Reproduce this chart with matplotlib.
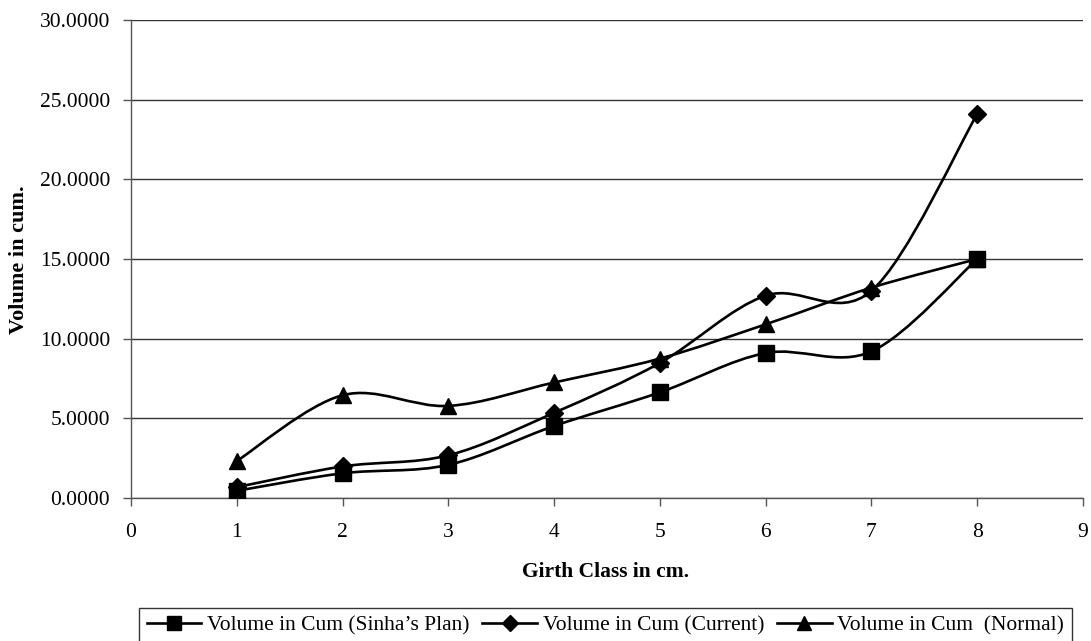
import matplotlib
matplotlib.use("Agg")
import matplotlib.pyplot as plt
import numpy as np
from matplotlib.path import Path
from matplotlib.patches import PathPatch
from matplotlib.lines import Line2D

girth_class = [1, 2, 3, 4, 5, 6, 7, 8]
sinha_plan = [0.45, 1.55, 2.08, 4.52, 6.63, 9.10, 9.20, 15.00]
current = [0.68, 1.98, 2.68, 5.35, 8.48, 12.70, 13.00, 24.10]
normal = [2.32, 6.45, 5.78, 7.25, 8.75, 10.90, 13.20, 15.00]

series_names = ["Volume in Cum (Sinha\u2019s Plan)", "Volume in Cum (Current)",
                "Volume in Cum  (Normal)"]
markers = ["s", "D", "^"]
msizes = [11.5, 9.5, 11.5]

x_ticks = list(range(0, 10))
y_ticks = [0, 5, 10, 15, 20, 25, 30]

plt.rcParams['font.family'] = ['Liberation Serif', 'DejaVu Serif']

fig = plt.figure(figsize=(10.91, 6.41), dpi=100)
ax = fig.add_axes([131/1091, 1-498/641, (1083-131)/1091, (498-20)/641])


def smooth_path(xs, ys):
    pts = np.column_stack([xs, ys]).astype(float)
    n = len(pts)
    verts = [pts[0]]
    codes = [Path.MOVETO]
    for i in range(n - 1):
        p0 = pts[i - 1] if i > 0 else pts[i]
        p1 = pts[i]
        p2 = pts[i + 1]
        p3 = pts[i + 2] if i + 2 < n else pts[i + 1]
        c1 = p1 + (p2 - p0) / 6.0
        c2 = p2 - (p3 - p1) / 6.0
        verts += [c1, c2, p2]
        codes += [Path.CURVE4] * 3
    return Path(verts, codes)


for ys, m, ms in zip([sinha_plan, current, normal], markers, msizes):
    patch = PathPatch(smooth_path(girth_class, ys), fill=False, edgecolor='black',
                      lw=1.9, transform=ax.transData, zorder=3)
    ax.add_patch(patch)
    ax.plot(girth_class, ys, linestyle='none', marker=m, markersize=ms,
            color='black', zorder=4)

ax.set_xlim(0, 9)
ax.set_ylim(0, 30)
ax.set_xticks(x_ticks)
ax.set_yticks(y_ticks)
ax.set_yticklabels([f"{v:.4f}" for v in y_ticks])
ax.tick_params(axis='both', labelsize=15.5, direction='out', length=6, width=1,
               color='#555555')
ax.tick_params(axis='x', pad=12)
ax.tick_params(axis='y', pad=9)
ax.yaxis.grid(True, color='#333333', lw=1)
ax.set_axisbelow(True)
for s in ['top', 'right']:
    ax.spines[s].set_visible(False)
for s in ['left', 'bottom']:
    ax.spines[s].set_color('#555555')
    ax.spines[s].set_linewidth(1)

fig.text(606/1091, 1-572/641, "Girth Class in cm.", ha='center', va='center',
         fontsize=15.5, fontweight='bold')
fig.text(19/1091, 1-260/641, "Volume in cum.", ha='center', va='center',
         rotation=90, fontsize=16, fontweight='bold')

handles = [Line2D([], [], color='black', lw=1.9, marker=m, markersize=ms*0.9)
           for m, ms in zip(markers, msizes)]
leg = fig.legend(handles, series_names, loc='upper left',
                 bbox_to_anchor=(139/1091, 1-608/641), ncol=3, fontsize=15.5,
                 frameon=True, fancybox=False, edgecolor='black',
                 handlelength=2.55, handletextpad=0.25, columnspacing=0.6,
                 borderpad=0.35, borderaxespad=0)
leg.get_frame().set_linewidth(1)

fig.savefig("out.png", dpi=100)
